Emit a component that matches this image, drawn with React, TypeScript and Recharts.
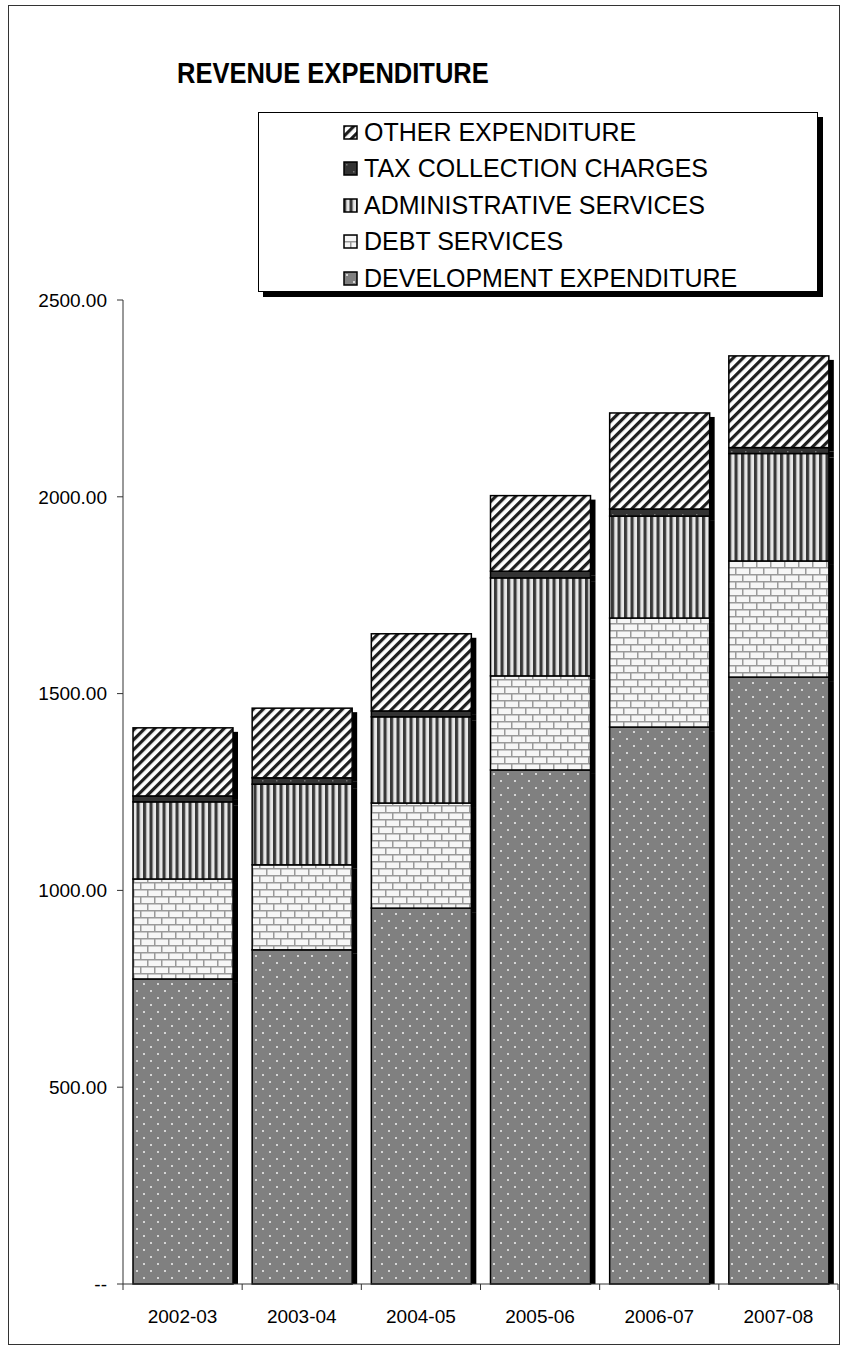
import { BarChart, Bar, XAxis, YAxis } from "recharts";

const years = ["2002-03", "2003-04", "2004-05", "2005-06", "2006-07", "2007-08"];
const development = [775, 849, 955, 1306, 1415, 1542];
const debtServices = [254, 216, 267, 239, 277, 295];
const adminServices = [196, 205, 219, 249, 259, 273];
const taxCollection = [15, 16, 15, 17, 18, 15];
const otherExpenditure = [173, 177, 196, 192, 244, 233];
const yTicks = [0, 500, 1000, 1500, 2000, 2500];

// stacking order, bottom to top
const series = [
  { key: "development", name: "DEVELOPMENT EXPENDITURE", fill: "url(#patDots)" },
  { key: "debt", name: "DEBT SERVICES", fill: "url(#patBrick)" },
  { key: "admin", name: "ADMINISTRATIVE SERVICES", fill: "url(#patVert)" },
  { key: "tax", name: "TAX COLLECTION CHARGES", fill: "url(#patTax)" },
  { key: "other", name: "OTHER EXPENDITURE", fill: "url(#patDiag)" },
];

const data = years.map((year, i) => ({
  year,
  development: development[i],
  debt: debtServices[i],
  admin: adminServices[i],
  tax: taxCollection[i],
  other: otherExpenditure[i],
}));

const W = 849;
const H = 1352;
const M = { top: 300, right: 11, bottom: 38, left: 63 };
const Y_AXIS_W = 60;
const X_AXIS_H = 30;
const PLOT_LEFT = M.left + Y_AXIS_W;
const PLOT_BOTTOM = H - M.bottom - X_AXIS_H;
const BAND = (W - PLOT_LEFT - M.right) / years.length;
const FONT = "'Liberation Sans', Arial, sans-serif";

function Patterns() {
  return (
    <svg width={0} height={0} style={{ position: "absolute" }}>
      <defs>
        <pattern id="patDots" patternUnits="userSpaceOnUse" width={14} height={14}>
          <rect width={14} height={14} fill="#808080" />
          <rect x={3} y={3} width={2} height={2} fill="#d6d6d6" />
          <rect x={10} y={10} width={2} height={2} fill="#d6d6d6" />
        </pattern>
        <pattern id="patBrick" patternUnits="userSpaceOnUse" width={14} height={14}>
          <rect width={14} height={14} fill="#f6f6f6" />
          <line x1={0} y1={0.75} x2={14} y2={0.75} stroke="#9a9a9a" strokeWidth={1.5} />
          <line x1={0} y1={7.75} x2={14} y2={7.75} stroke="#9a9a9a" strokeWidth={1.5} />
          <line x1={0.75} y1={0} x2={0.75} y2={7} stroke="#9a9a9a" strokeWidth={1.5} />
          <line x1={7.75} y1={7} x2={7.75} y2={14} stroke="#9a9a9a" strokeWidth={1.5} />
        </pattern>
        <pattern id="patVert" patternUnits="userSpaceOnUse" width={6.5} height={10}>
          <rect width={6.5} height={10} fill="#e8e8e8" />
          <rect x={0} width={3} height={10} fill="#383838" />
          <rect x={3} width={0.8} height={10} fill="#9a9a9a" />
        </pattern>
        <pattern id="patTax" patternUnits="userSpaceOnUse" width={14} height={14}>
          <rect width={14} height={14} fill="#333" />
          <rect x={3} y={3} width={1.5} height={1.5} fill="#777" />
          <rect x={10} y={10} width={1.5} height={1.5} fill="#777" />
        </pattern>
        <pattern id="patDiag" patternUnits="userSpaceOnUse" width={7} height={7} patternTransform="rotate(45)">
          <rect width={7} height={7} fill="#fff" />
          <rect width={3.2} height={7} fill="#1e1e1e" />
        </pattern>
      </defs>
    </svg>
  );
}

// bar segment with a black drop strip on its right side
function ShadowBar(props: any) {
  const { x, y, width, height, fill, base } = props;
  if (!height || height <= 0) return null;
  const sh = base ? height - 4 : height;
  return (
    <g>
      <rect x={x + width} y={y + 4} width={5} height={Math.max(sh, 0)} fill="#000" />
      <rect x={x} y={y} width={width} height={height} fill={fill} stroke="#000" strokeWidth={1.5} />
    </g>
  );
}

function XTick(props: any) {
  const { x, payload, index } = props;
  return (
    <g>
      {index === 0 && (
        <line x1={x - BAND / 2} y1={PLOT_BOTTOM} x2={x - BAND / 2} y2={PLOT_BOTTOM + 6} stroke="#333" />
      )}
      <line x1={x + BAND / 2} y1={PLOT_BOTTOM} x2={x + BAND / 2} y2={PLOT_BOTTOM + 6} stroke="#333" />
      <text x={x} y={PLOT_BOTTOM + 39} textAnchor="middle" fontSize={19} fontFamily={FONT} fill="#000">
        {payload.value}
      </text>
    </g>
  );
}

function LegendBox() {
  const items = [...series].reverse();
  return (
    <div
      style={{
        position: "absolute",
        left: 258,
        top: 112,
        width: 560,
        height: 180,
        border: "1.5px solid #000",
        background: "#fff",
        boxShadow: "5px 5px 0 #000",
        fontFamily: FONT,
        fontSize: 25,
        boxSizing: "border-box",
        paddingTop: 1,
      }}
    >
      {items.map((s) => (
        <div key={s.key} style={{ display: "flex", alignItems: "center", height: 36.5, paddingLeft: 84 }}>
          <svg width={15} height={15} style={{ marginRight: 6 }}>
            <rect x={1} y={1} width={13} height={13} fill={s.fill} stroke="#000" strokeWidth={1.5} />
          </svg>
          <span>{s.name}</span>
        </div>
      ))}
    </div>
  );
}

export default function App() {
  return (
    <div style={{ position: "absolute", left: 0, top: 0, width: W, height: H, background: "#fff" }}>
      <Patterns />
      <div
        style={{
          position: "absolute",
          left: 8,
          top: 5,
          width: 832,
          height: 1340,
          border: "1.5px solid #333",
          boxSizing: "border-box",
        }}
      />
      <div
        style={{
          position: "absolute",
          left: 177,
          top: 56,
          fontFamily: FONT,
          fontWeight: "bold",
          fontSize: 30,
          whiteSpace: "nowrap",
          transform: "scaleX(0.85)",
          transformOrigin: "left top",
        }}
      >
        REVENUE EXPENDITURE
      </div>
      <div style={{ position: "absolute", left: 0, top: 0 }}>
        <BarChart width={W} height={H} data={data} margin={M} barSize={100}>
          <XAxis
            dataKey="year"
            height={X_AXIS_H}
            tickLine={false}
            axisLine={{ stroke: "#333" }}
            tick={<XTick />}
            interval={0}
          />
          <YAxis
            width={Y_AXIS_W}
            domain={[0, 2500]}
            ticks={yTicks}
            interval={0}
            axisLine={{ stroke: "#333" }}
            tickLine={{ stroke: "#333" }}
            tickSize={6}
            tickMargin={10}
            tick={{ fontSize: 19, fontFamily: FONT, fill: "#000" }}
            tickFormatter={(v: number) => (v === 0 ? "--" : v.toFixed(2))}
          />
          {series.map((s) => (
            <Bar
              key={s.key}
              dataKey={s.key}
              name={s.name}
              stackId="exp"
              fill={s.fill}
              isAnimationActive={false}
              shape={(p: any) => <ShadowBar {...p} base={s.key === "development"} />}
            />
          ))}
        </BarChart>
      </div>
      <LegendBox />
    </div>
  );
}
